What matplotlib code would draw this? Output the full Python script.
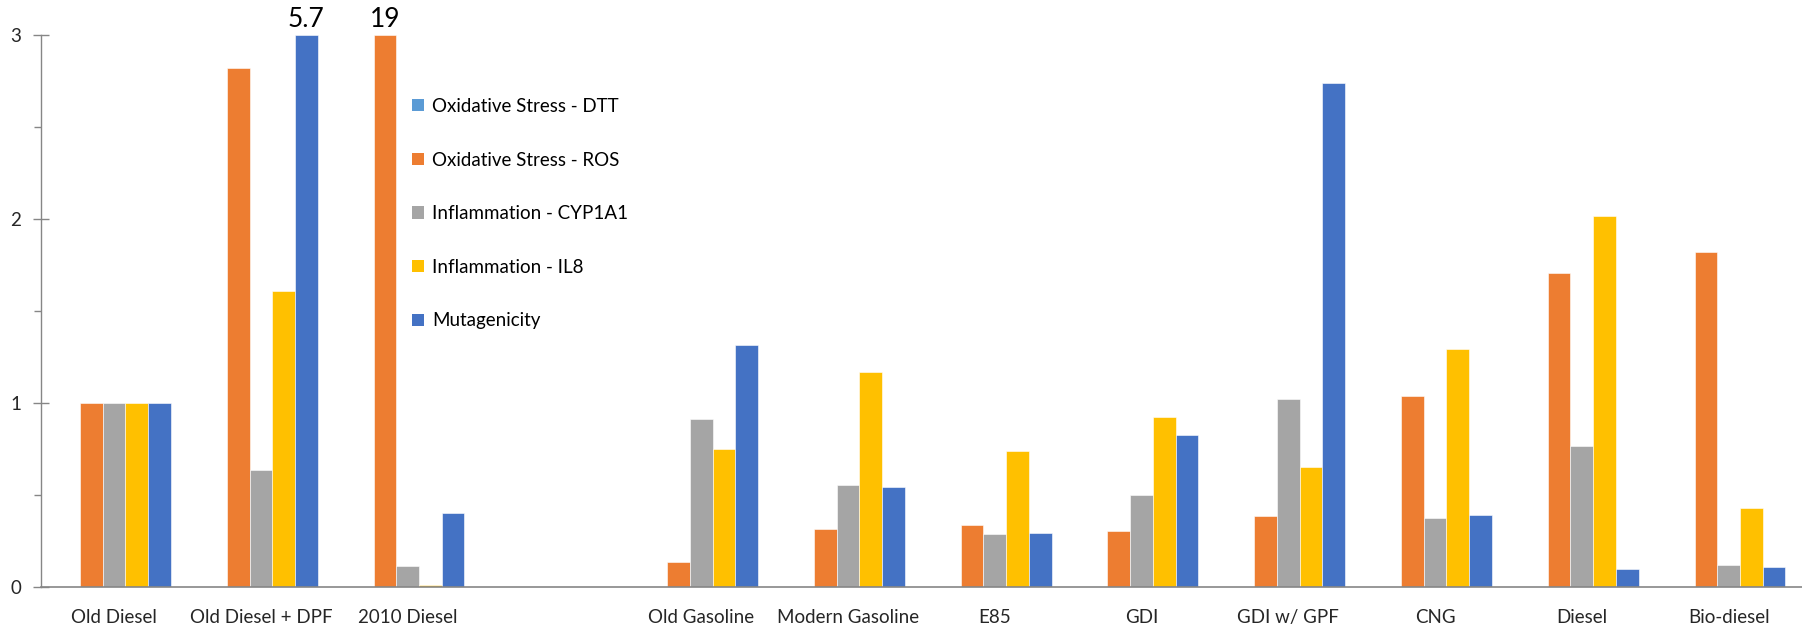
import numpy as np
import matplotlib
matplotlib.use("Agg")
import matplotlib.pyplot as plt
from matplotlib.patches import Patch
from matplotlib.ticker import MultipleLocator

plt.rcParams['font.family'] = ['Lato', 'DejaVu Sans']

# data, nan = no bar
categories = ["Old Diesel", "Old Diesel + DPF", "2010 Diesel", "",
              "Old Gasoline", "Modern Gasoline", "E85", "GDI", "GDI w/ GPF",
              "CNG", "Diesel", "Bio-diesel"]
series_names = ["Oxidative Stress - DTT", "Oxidative Stress - ROS",
                "Inflammation - CYP1A1", "Inflammation - IL8", "Mutagenicity"]
nan = np.nan
dtt = [nan] * 12
ros = [1.0, 2.82, 19, nan, 0.136, 0.315, 0.337, 0.304, 0.386, 1.037, 1.707, 1.819]
cyp1a1 = [1.0, 0.637, 0.115, nan, 0.913, 0.554, 0.288, 0.50, 1.022, 0.374, 0.765, 0.12]
il8 = [1.0, 1.609, 0.01, nan, 0.75, 1.168, 0.739, 0.924, 0.651, 1.293, 2.016, 0.429]
mutagenicity = [1.0, 5.7, 0.40, nan, 1.315, 0.543, 0.293, 0.826, 2.738, 0.391, 0.097, 0.109]
colors = ["#5B9BD5", "#ED7D31", "#A5A5A5", "#FFC000", "#4472C4"]
y_max = 3

series = [dtt, ros, cyp1a1, il8, mutagenicity]

W, H = 1802, 625
fig = plt.figure(figsize=(W / 100, H / 100), dpi=100)
ax = fig.add_axes([40.7 / W, 38 / H, 1 - 40.7 / W, (587 - 35) / H])

x = np.arange(len(categories))
bw = 22.7 / 146.7
for i, (vals, c) in enumerate(zip(series, colors)):
    pos = x + (i - 2) * bw
    v = np.array(vals, dtype=float)
    ax.bar(pos, np.minimum(v, y_max), width=bw, color=c, edgecolor="white", linewidth=0.4)
    # values beyond the axis limit get a label on top
    for p, val in zip(pos, v):
        if not np.isnan(val) and val > y_max:
            ax.annotate(f"{val:g}", (p, y_max), xytext=(0, 2), textcoords="offset points",
                        ha="center", va="bottom", fontsize=19, color="black",
                        annotation_clip=False)

ax.set_xlim(-0.5, len(categories) - 0.5)
ax.set_ylim(0, y_max)
ax.set_xticks(x)
ax.set_xticklabels(categories, fontsize=13.5, color="#262626")
ax.tick_params(axis="x", length=0, pad=16)
ax.yaxis.set_major_locator(MultipleLocator(1))
ax.yaxis.set_minor_locator(MultipleLocator(0.5))
ax.tick_params(axis="y", which="major", direction="inout", length=12, width=1,
               color="#868686", labelsize=13.5, labelcolor="#262626", pad=8)
ax.tick_params(axis="y", which="minor", direction="out", length=5, width=1, color="#868686")

for s in ["top", "right"]:
    ax.spines[s].set_visible(False)
ax.spines["left"].set_color("#868686")
ax.spines["bottom"].set_color("#868686")
ax.spines["left"].set_linewidth(1)
ax.spines["bottom"].set_linewidth(1.2)

handles = [Patch(facecolor=c, edgecolor="none") for c in colors]
fig.legend(handles, series_names, loc="upper left",
           bbox_to_anchor=(412 / W, 1 - 98 / H), frameon=False, fontsize=13.5,
           handlelength=0.62, handleheight=0.62, handletextpad=0.45,
           labelspacing=1.95, borderpad=0, borderaxespad=0)

fig.savefig("out.png", dpi=100)
